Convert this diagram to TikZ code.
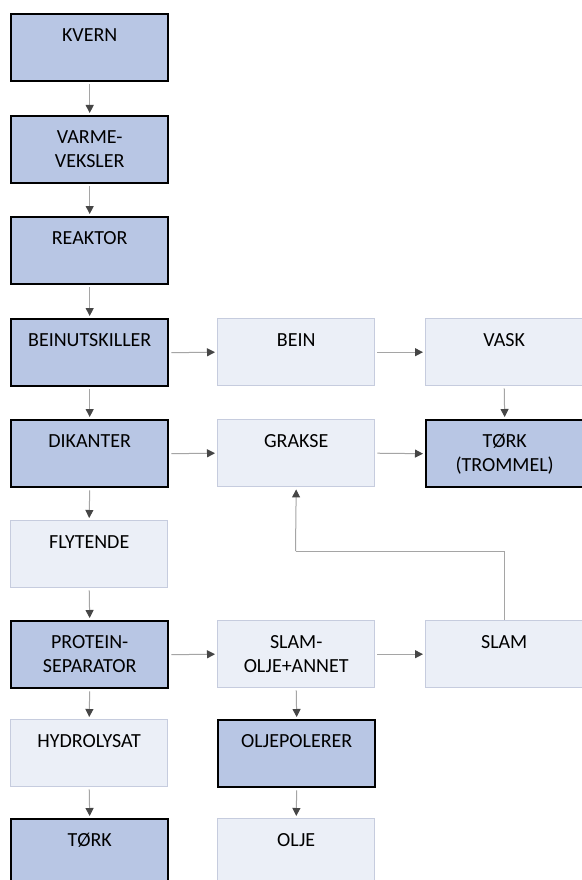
\documentclass[tikz,border=0pt]{standalone}
\usepackage{fontspec}
\setmainfont{Carlito}
\usetikzlibrary{arrows.meta}
\definecolor{darkfill}{RGB}{184,198,228}
\definecolor{lightfill}{RGB}{235,239,247}
\definecolor{lightborder}{RGB}{198,204,222}
\definecolor{linegray}{RGB}{165,165,165}
\definecolor{headgray}{RGB}{70,70,70}
\tikzset{
  boxbase/.style={rectangle, minimum width=157pt, minimum height=67pt, inner sep=0pt, anchor=north west},
  darkbox/.style={boxbase, fill=darkfill, draw=black, line width=2.4pt},
  lightbox/.style={boxbase, fill=lightfill, draw=lightborder, line width=1.4pt},
  lbl/.style={anchor=north, inner sep=0pt, align=center, text=black, font=\fontsize{20}{24}\selectfont},
  conn/.style={draw=linegray, line width=1pt, shorten <=2pt, shorten >=2pt,
    -{Triangle[length=8pt,width=8pt,color=headgray]}},
  plain/.style={draw=linegray, line width=1pt}
}
\newcommand{\fl}{\rule{0pt}{15pt}}
\begin{document}
\begin{tikzpicture}[x=1pt,y=1pt]
\useasboundingbox (0,0) rectangle (581,-880);
\fill[white] (0,0) rectangle (581,-880);
% column 1
\node[darkbox]  (kvern)  at (10,-13)  {};
\node[darkbox]  (varme)  at (10,-115) {};
\node[darkbox]  (reak)   at (10,-216) {};
\node[darkbox]  (bein1)  at (10,-318) {};
\node[darkbox]  (dik)    at (10,-419) {};
\node[lightbox] (flyt)   at (10,-520) {};
\node[darkbox]  (prot)   at (10,-620) {};
\node[lightbox] (hydro)  at (10,-719) {};
\node[darkbox]  (tork)   at (10,-818) {};
% column 2
\node[lightbox] (bein)   at (217,-318) {};
\node[lightbox] (grakse) at (217,-419) {};
\node[lightbox] (slamol) at (217,-620) {};
\node[darkbox]  (oljep)  at (217,-719) {};
\node[lightbox] (olje)   at (217,-818) {};
% column 3
\node[lightbox] (vask)   at (425,-318) {};
\node[darkbox]  (tork2)  at (425,-419) {};
\node[lightbox] (slam)   at (425,-620) {};
% labels
\node[lbl] (tkvern)  at ([yshift=-13pt]kvern.north)  {\fl KVERN};
\node[lbl] (tvarme)  at ([yshift=-13pt]varme.north)  {\fl VARME-\\VEKSLER};
\node[lbl] (treak)   at ([yshift=-13pt]reak.north)   {\fl REAKTOR};
\node[lbl] (tbein1)  at ([yshift=-13pt]bein1.north)  {\fl BEINUTSKILLER};
\node[lbl] (tdik)    at ([yshift=-13pt]dik.north)    {\fl DIKANTER};
\node[lbl] (tflyt)   at ([yshift=-13pt]flyt.north)   {\fl FLYTENDE};
\node[lbl] (tprot)   at ([yshift=-13pt]prot.north)   {\fl PROTEIN-\\SEPARATOR};
\node[lbl] (thydro)  at ([yshift=-13pt]hydro.north)  {\fl HYDROLYSAT};
\node[lbl] (ttork)   at ([yshift=-13pt]tork.north)   {\fl TØRK};
\node[lbl] (tbein)   at ([yshift=-13pt]bein.north)   {\fl BEIN};
\node[lbl] (tgrakse) at ([yshift=-13pt]grakse.north) {\fl GRAKSE};
\node[lbl] (tslamol) at ([yshift=-13pt]slamol.north) {\fl SLAM-\\OLJE+ANNET};
\node[lbl] (toljep)  at ([yshift=-13pt]oljep.north)  {\fl OLJEPOLERER};
\node[lbl] (tolje)   at ([yshift=-13pt]olje.north)   {\fl OLJE};
\node[lbl] (tvask)   at ([yshift=-13pt]vask.north)   {\fl VASK};
\node[lbl] (ttork2)  at ([yshift=-13pt]tork2.north)  {\fl TØRK\\(TROMMEL)};
\node[lbl] (tslam)   at ([yshift=-13pt]slam.north)   {\fl SLAM};
% connectors column 1
\draw[conn] (kvern.south) -- (varme.north);
\draw[conn] (varme.south) -- (reak.north);
\draw[conn] (reak.south) -- (bein1.north);
\draw[conn] (bein1.south) -- (dik.north);
\draw[conn] (dik.south) -- (flyt.north);
\draw[conn] (flyt.south) -- (prot.north);
\draw[conn] (prot.south) -- (hydro.north);
\draw[conn] (hydro.south) -- (tork.north);
% horizontal
\draw[conn] (bein1.east) -- (bein.west);
\draw[conn] (bein.east) -- (vask.west);
\draw[conn] (dik.east) -- (grakse.west);
\draw[conn] (grakse.east) -- (tork2.west);
\draw[conn] (prot.east) -- (slamol.west);
\draw[conn] (slamol.east) -- (slam.west);
% vertical others
\draw[conn] (vask.south) -- (tork2.north);
\draw[conn] (slamol.south) -- (oljep.north);
\draw[conn] (oljep.south) -- (olje.north);
% slam back to grakse
\coordinate (bend) at (295.5,-551);
\draw[plain] (slam.north) |- (bend);
\draw[conn, shorten <=0pt] (bend) -- (grakse.south);
\end{tikzpicture}
\end{document}
